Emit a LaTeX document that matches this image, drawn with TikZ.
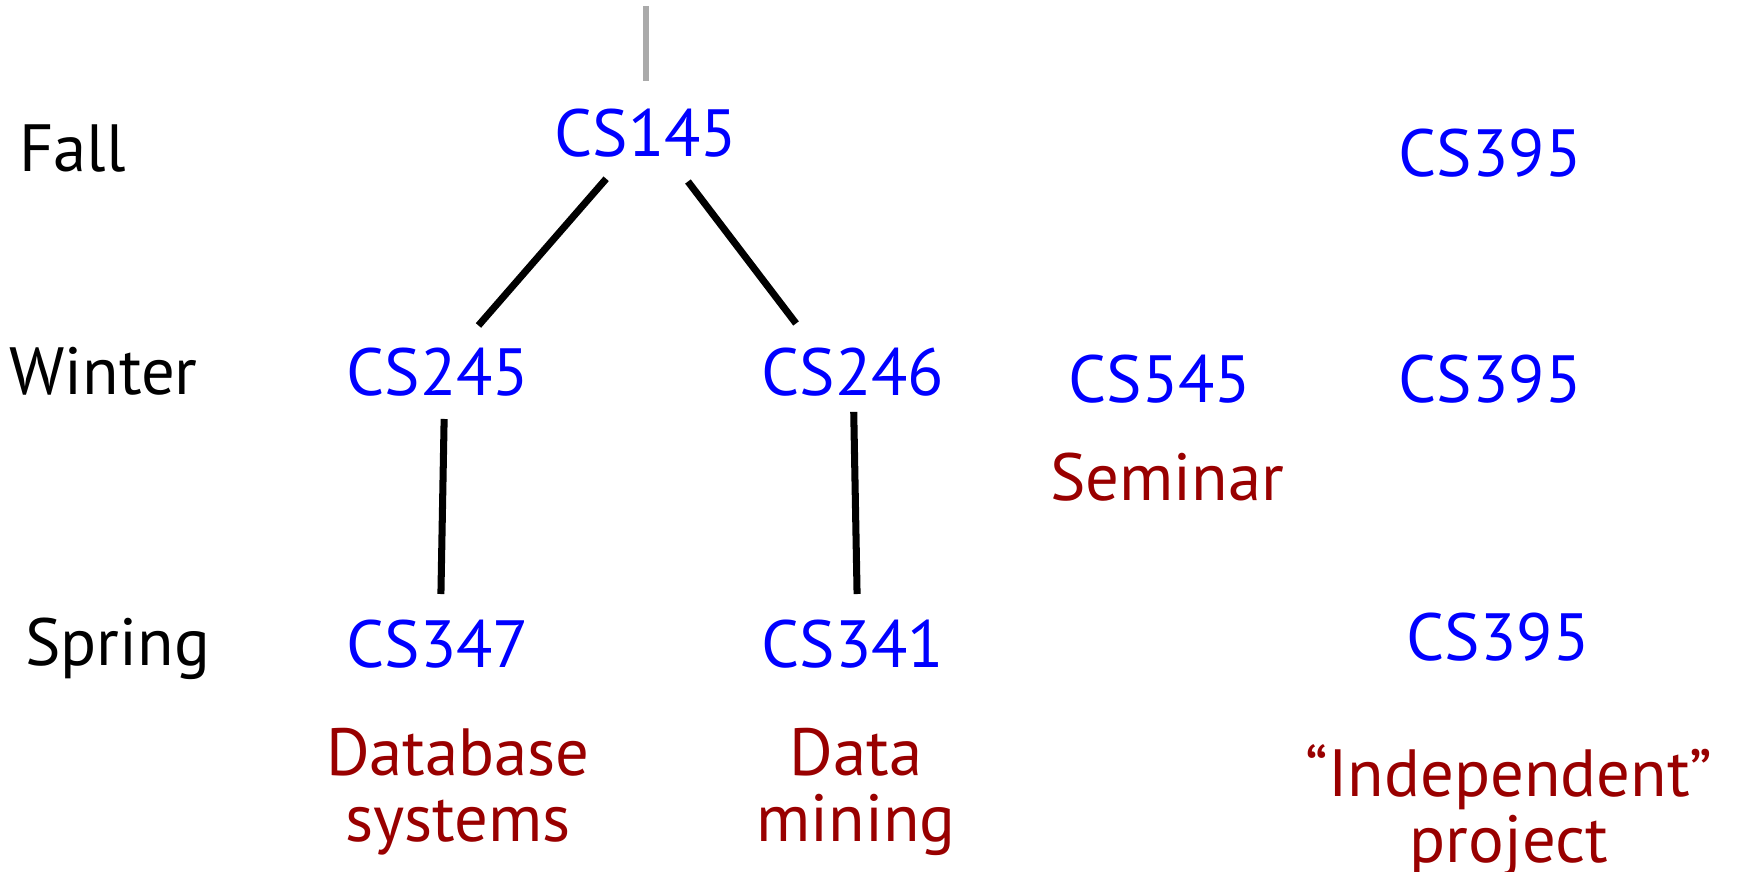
\documentclass[tikz,border=0pt]{standalone}
\usepackage{fontspec}
\setmainfont{PT Sans}
\definecolor{courseblue}{RGB}{0,0,255}
\definecolor{notered}{RGB}{153,0,0}
\definecolor{prereqgray}{RGB}{170,170,170}
\newcommand*{\lw  }{4pt}
\newcommand*{\capht}{26.8pt}

\begin{document}
\begin{tikzpicture}[font=\fontsize{38}{37.5}\selectfont,
    course/.style={text=courseblue, inner sep=0pt, text height=\capht, text depth=0pt},
    term/.style={anchor=west, inner sep=0pt, text height=\capht, text depth=0pt},
    note/.style={text=notered, inner sep=0pt, align=center, anchor=north},
    link/.style={line width=\lw, shorten <=0.5cm, shorten >=0.5cm}]
    \useasboundingbox (0,0) rectangle (34.74,-17.44);
    % terms
    \node [term] (fall)   at (0.38, -2.96) {Fall};
    \node [term] (winter) at (0.18, -7.42) {Winter};
    \node [term] (spring) at (0.50,-12.84) {Spring};
    % courses
    \node [course] (cs145)  at (12.92, -2.66) {CS145};
    \node [course] (cs395a) at (29.80, -3.06) {CS395};
    \node [course] (cs245)  at ( 8.76, -7.44) {CS245};
    \node [course] (cs246)  at (17.06, -7.44) {CS246};
    \node [course] (cs545)  at (23.20, -7.58) {CS545};
    \node [course] (cs395b) at (29.80, -7.58) {CS395};
    \node [course] (cs347)  at ( 8.76,-12.88) {CS347};
    \node [course] (cs341)  at (17.06,-12.88) {CS341};
    \node [course] (cs395c) at (29.96,-12.74) {CS395};
    % notes
    \node [note] (seminar)  at (23.34, -9.06) {Seminar};
    \node [note] (dbsys)    at ( 9.16,-14.56) {Database\\systems};
    \node [note] (dmining)  at (17.12,-14.56) {Data\\mining};
    \node [note] (indep)    at (30.18,-14.88) {“Independent”\\project};
    % prerequisites
    \coordinate (above) at (12.92,-0.12);
    \draw [prereqgray, line width=3.2pt, shorten >=0.56cm] (above) -- (cs145);
    \draw [link, shorten <=0.58cm, shorten >=0.6cm] (cs145) -- (cs245);
    \draw [link, shorten <=1.22cm, shorten >=1.22cm] ([xshift=0.1cm]cs145.center) -- ([xshift=-0.4cm]cs246.center);
    \draw [link, shorten <=0.94cm, shorten >=1.0cm] ([xshift=0.14cm]cs245.center) -- ([xshift=0.04cm]cs347.center);
    \draw [link, shorten <=0.32cm, shorten >=1.0cm] (cs246) -- ([xshift=0.1cm]cs341.center);
\end{tikzpicture}
\end{document}
